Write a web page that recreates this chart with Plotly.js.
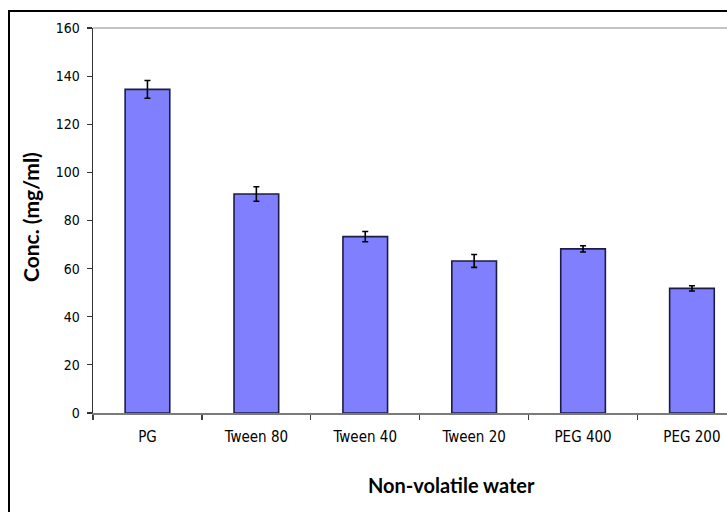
<!DOCTYPE html>
<html>
<head>
<meta charset="utf-8">
<script src="https://cdn.plot.ly/plotly-3.0.1.min.js"></script>
<style>
  html, body { margin: 0; padding: 0; background: #fff; overflow: hidden; }
  #chart { width: 727px; height: 512px; }
</style>
</head>
<body>
<div id="chart"></div>
<script>
// Solubility in each non-volatile solvent (mean ± SD)
const solvents = ["PG", "Tween 80", "Tween 40", "Tween 20", "PEG 400", "PEG 200"];
const concentration = [134.5, 91.0, 73.3, 63.2, 68.2, 51.8];
const deviation = [3.7, 3.0, 2.1, 2.7, 1.3, 1.1];
const yTicks = [0, 20, 40, 60, 80, 100, 120, 140, 160];

const W = 727, H = 512;
const plotLeft = 93, plotTop = 28, plotBottom = 413;
const pw = W - plotLeft, ph = plotBottom - plotTop;
const px = v => (v - plotLeft) / pw;      // pixel -> paper x
const py = v => (plotBottom - v) / ph;    // pixel -> paper y

const tickFamily = "DejaVu Sans Condensed, Liberation Sans Narrow, Arial Narrow, sans-serif";

const trace = {
  type: "bar",
  x: solvents,
  y: concentration,
  width: 0.41,
  marker: { color: "#8080ff", line: { color: "#1c1c44", width: 1.6 } },
  error_y: { type: "data", array: deviation, visible: true, color: "#000", thickness: 1.6, width: 3 },
  hoverinfo: "x+y"
};

const layout = {
  width: W, height: H,
  margin: { l: plotLeft, r: 0, t: plotTop, b: H - plotBottom, pad: 0 },
  paper_bgcolor: "#fff",
  plot_bgcolor: "#fff",
  showlegend: false,
  xaxis: {
    type: "category",
    range: [-0.5, -0.5 + pw / 108.9],
    tickson: "boundaries",
    ticks: "outside", ticklen: 5, tickwidth: 1.2, tickcolor: "#404040",
    ticklabelstandoff: 9,
    showline: true, linecolor: "#7a7a7a", linewidth: 2,
    showgrid: false, zeroline: false,
    tickfont: { family: tickFamily, size: 15, color: "#000" },
    fixedrange: true
  },
  yaxis: {
    range: [0, 160],
    tickvals: yTicks,
    ticktext: yTicks.map(String),
    ticks: "outside", ticklen: 5, tickwidth: 1.2, tickcolor: "#333",
    ticklabelstandoff: 4,
    showline: true, linecolor: "#333", linewidth: 1.5,
    showgrid: false, zeroline: false,
    tickfont: { family: tickFamily, size: 14, color: "#000" },
    fixedrange: true
  },
  shapes: [
    // outer frame
    { type: "rect", xref: "paper", yref: "paper", x0: px(9), x1: 1.2, y0: -0.4, y1: py(11),
      line: { color: "#000", width: 2 }, fillcolor: "rgba(0,0,0,0)", layer: "below" },
    // plot area top edge
    { type: "line", xref: "paper", yref: "paper", x0: 0, x1: 1, y0: 1, y1: 1,
      line: { color: "#c4c4c4", width: 2 } }
  ],
  annotations: [
    { text: "<b>Non-volatile water</b>", xref: "paper", yref: "paper", x: px(451), y: py(485),
      showarrow: false, xanchor: "center", yanchor: "middle",
      font: { family: "Lato, Open Sans, sans-serif", size: 20, color: "#000" } },
    { text: "<b>Conc. (mg/ml)</b>", xref: "paper", yref: "paper", x: px(30), y: py(217),
      showarrow: false, xanchor: "center", yanchor: "middle", textangle: -90,
      font: { family: "Lato, Open Sans, sans-serif", size: 21, color: "#000" } }
  ]
};

Plotly.newPlot("chart", [trace], layout, { displayModeBar: false, staticPlot: true });
</script>
</body>
</html>
